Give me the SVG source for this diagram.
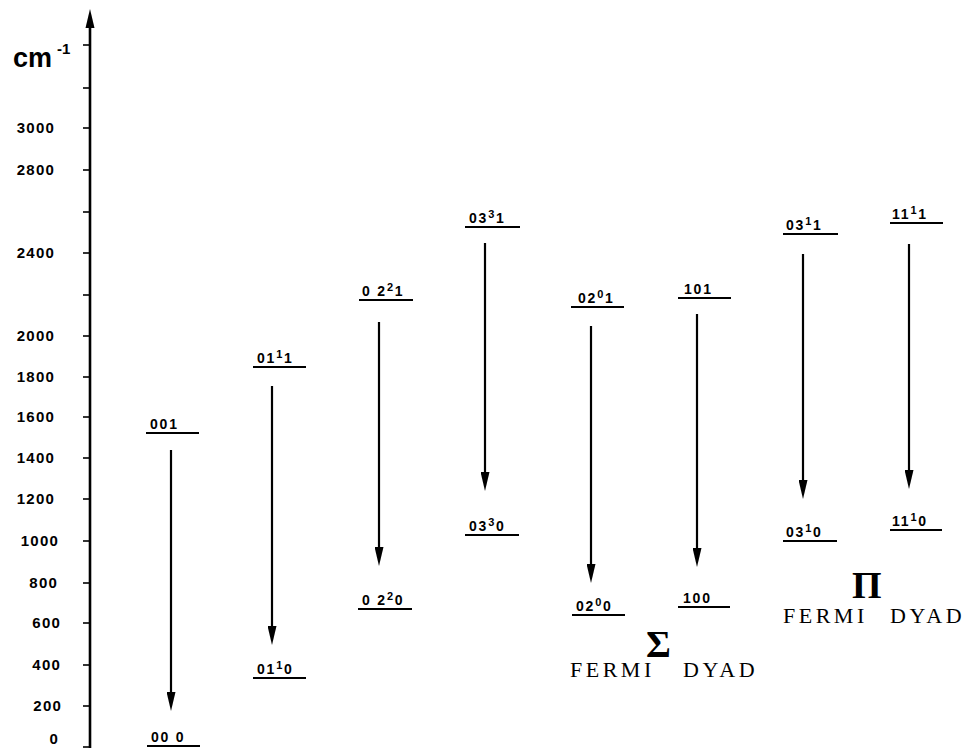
<svg xmlns="http://www.w3.org/2000/svg" width="969" height="748" viewBox="0 0 969 748">
  <style>
    .axis { stroke: #000; stroke-width: 2.6; fill: none; }
    .tick { stroke: #000; stroke-width: 1.6; }
    .tlab { font-family: "Liberation Sans", Arial, sans-serif; font-weight: bold; font-size: 15px; letter-spacing: 1.2px; text-anchor: end; fill: #000; }
    .level { stroke: #000; stroke-width: 2.2; }
    .lab { font-family: "Liberation Sans", Arial, sans-serif; font-weight: bold; font-size: 14px; letter-spacing: 1.8px; fill: #000; }
    .sup { font-size: 11px; }
    .arrow { stroke: #000; stroke-width: 2.2; fill: none; marker-end: url(#head); }
    .big { font-family: "Liberation Serif", "Times New Roman", serif; font-weight: bold; font-size: 38px; fill: #000; }
    .dyad { font-family: "Liberation Serif", "Times New Roman", serif; font-size: 22px; letter-spacing: 3.5px; fill: #000; }
  </style>
  <defs>
    <marker id="head" markerUnits="userSpaceOnUse" markerWidth="19" markerHeight="9" refX="8" refY="4.5" orient="auto" viewBox="0 0 19 9">
      <path d="M0,0 L19,4.5 L0,9 Z" fill="#000"/>
    </marker>
  </defs>

  <!-- energy axis -->
  <g id="axis">
    <line class="axis" x1="90" y1="24" x2="90" y2="748"/>
    <polygon points="90,9 85.5,28 94.5,28" fill="#000"/>
    <g class="tick">
      <line x1="83" y1="45" x2="90" y2="45"/>
      <line x1="83" y1="88" x2="90" y2="88"/>
      <line x1="83" y1="128" x2="90" y2="128"/>
      <line x1="83" y1="170" x2="90" y2="170"/>
      <line x1="83" y1="212" x2="90" y2="212"/>
      <line x1="83" y1="253" x2="90" y2="253"/>
      <line x1="83" y1="295" x2="90" y2="295"/>
      <line x1="83" y1="336" x2="90" y2="336"/>
      <line x1="83" y1="377" x2="90" y2="377"/>
      <line x1="83" y1="417" x2="90" y2="417"/>
      <line x1="83" y1="458" x2="90" y2="458"/>
      <line x1="83" y1="499" x2="90" y2="499"/>
      <line x1="83" y1="541" x2="90" y2="541"/>
      <line x1="83" y1="583" x2="90" y2="583"/>
      <line x1="83" y1="623" x2="90" y2="623"/>
      <line x1="83" y1="665" x2="90" y2="665"/>
      <line x1="83" y1="706" x2="90" y2="706"/>
      <line x1="83" y1="747" x2="90" y2="747"/>
    </g>
    <text x="13" y="67" font-family="Liberation Sans, Arial, sans-serif" font-weight="bold" font-size="27px">cm<tspan font-size="15px" dx="5" dy="-13">-1</tspan></text>
    <text class="tlab" x="55" y="133">3000</text>
    <text class="tlab" x="55" y="175">2800</text>
    <text class="tlab" x="55" y="258">2400</text>
    <text class="tlab" x="55" y="341">2000</text>
    <text class="tlab" x="55" y="382">1800</text>
    <text class="tlab" x="55" y="422">1600</text>
    <text class="tlab" x="55" y="463">1400</text>
    <text class="tlab" x="55" y="504">1200</text>
    <text class="tlab" x="59" y="546">1000</text>
    <text class="tlab" x="58" y="588">800</text>
    <text class="tlab" x="61" y="628">600</text>
    <text class="tlab" x="61" y="670">400</text>
    <text class="tlab" x="62" y="711">200</text>
    <text class="tlab" x="59" y="744">0</text>
  </g>

  <!-- vibrational levels -->
  <g id="n000"><line class="level" x1="147" y1="746" x2="200" y2="746"/><text class="lab" x="151" y="742">00 0</text></g>
  <g id="n001"><line class="level" x1="146" y1="433" x2="199" y2="433"/><text class="lab" x="150" y="429">001</text></g>
  <g id="n0111"><line class="level" x1="253" y1="367" x2="306" y2="367"/><text class="lab" x="257" y="363">01<tspan class="sup" dy="-5">1</tspan><tspan dy="5">1</tspan></text></g>
  <g id="n0110"><line class="level" x1="253" y1="678" x2="306" y2="678"/><text class="lab" x="257" y="674">01<tspan class="sup" dy="-5">1</tspan><tspan dy="5">0</tspan></text></g>
  <g id="n0221"><line class="level" x1="359" y1="300" x2="413" y2="300"/><text class="lab" x="362" y="296">0 2<tspan class="sup" dy="-5">2</tspan><tspan dy="5">1</tspan></text></g>
  <g id="n0220"><line class="level" x1="358" y1="609" x2="412" y2="609"/><text class="lab" x="362" y="605">0 2<tspan class="sup" dy="-5">2</tspan><tspan dy="5">0</tspan></text></g>
  <g id="n0331"><line class="level" x1="465" y1="227" x2="520" y2="227"/><text class="lab" x="469" y="223">03<tspan class="sup" dy="-5">3</tspan><tspan dy="5">1</tspan></text></g>
  <g id="n0330"><line class="level" x1="465" y1="535" x2="519" y2="535"/><text class="lab" x="469" y="531">03<tspan class="sup" dy="-5">3</tspan><tspan dy="5">0</tspan></text></g>
  <g id="n0201"><line class="level" x1="571" y1="307" x2="624" y2="307"/><text class="lab" x="578" y="303">02<tspan class="sup" dy="-5">0</tspan><tspan dy="5">1</tspan></text></g>
  <g id="n0200"><line class="level" x1="572" y1="615" x2="625" y2="615"/><text class="lab" x="576" y="611">02<tspan class="sup" dy="-5">0</tspan><tspan dy="5">0</tspan></text></g>
  <g id="n101"><line class="level" x1="678" y1="298" x2="731" y2="298"/><text class="lab" x="684" y="294">101</text></g>
  <g id="n100"><line class="level" x1="678" y1="607" x2="730" y2="607"/><text class="lab" x="683" y="603">100</text></g>
  <g id="n0311"><line class="level" x1="783" y1="234" x2="838" y2="234"/><text class="lab" x="786" y="230">03<tspan class="sup" dy="-5">1</tspan><tspan dy="5">1</tspan></text></g>
  <g id="n0310"><line class="level" x1="783" y1="541" x2="837" y2="541"/><text class="lab" x="786" y="537">03<tspan class="sup" dy="-5">1</tspan><tspan dy="5">0</tspan></text></g>
  <g id="n1111"><line class="level" x1="890" y1="223" x2="943" y2="223"/><text class="lab" x="892" y="219">11<tspan class="sup" dy="-5">1</tspan><tspan dy="5">1</tspan></text></g>
  <g id="n1110"><line class="level" x1="890" y1="530" x2="942" y2="530"/><text class="lab" x="892" y="526">11<tspan class="sup" dy="-5">1</tspan><tspan dy="5">0</tspan></text></g>

  <!-- transitions: line ends where the arrowhead (marker) takes over -->
  <g id="connectors">
    <line class="arrow" x1="171" y1="450" x2="171" y2="700"/>
    <line class="arrow" x1="272" y1="386" x2="272" y2="634"/>
    <line class="arrow" x1="379" y1="322" x2="379" y2="555"/>
    <line class="arrow" x1="485" y1="243" x2="485" y2="480"/>
    <line class="arrow" x1="591" y1="326" x2="591" y2="572"/>
    <line class="arrow" x1="697" y1="314" x2="697" y2="556"/>
    <line class="arrow" x1="803" y1="254" x2="803" y2="488"/>
    <line class="arrow" x1="909" y1="244" x2="909" y2="478"/>
  </g>

  <!-- Fermi dyad captions -->
  <g id="sigma-dyad">
    <text class="big" x="646" y="657">Σ</text>
    <text class="dyad" x="570" y="677">FERMI</text>
    <text class="dyad" x="683" y="677">DYAD</text>
  </g>
  <g id="pi-dyad">
    <text class="big" x="852" y="598">Π</text>
    <text class="dyad" x="783" y="623">FERMI</text>
    <text class="dyad" x="890" y="623">DYAD</text>
  </g>
</svg>
